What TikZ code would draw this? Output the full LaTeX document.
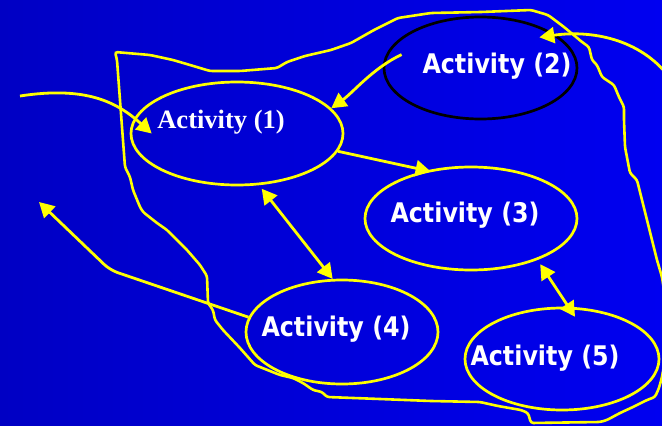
\documentclass[tikz,border=0pt]{standalone}
\usepackage{fontspec}
\usepackage{graphicx}
\usetikzlibrary{shapes.geometric,arrows.meta}
\newfontfamily\actserif{Liberation Serif}
\newfontfamily\actsans{DejaVu Sans}
\definecolor{bgL}{RGB}{0,0,196}
\definecolor{bgR}{RGB}{0,0,240}
\definecolor{ylw}{RGB}{255,255,0}
\newcommand\actlabel[1]{\scalebox{0.88}[1]{#1}}
\begin{document}
\begin{tikzpicture}[x=1pt,y=-1pt,
  act/.style={ellipse,draw=ylw,line width=2.7pt,inner sep=0pt},
  lbl/.style={text=white,anchor=base,inner sep=0pt},
  sanslbl/.style={lbl,font=\actsans\bfseries\fontsize{27}{30}\selectfont},
  seriflbl/.style={lbl,font=\actserif\bfseries\fontsize{26.5}{30}\selectfont},
  conn/.style={draw=ylw,line width=2.8pt},
  arrowone/.style={-{Triangle[length=15pt,width=16pt]}},
  arrowboth/.style={{Triangle[length=15pt,width=16pt]}-{Triangle[length=15pt,width=16pt]}},
  loopline/.style={draw=ylw,line width=2.6pt,rounded corners=2.5pt}
]
\useasboundingbox (0,0) rectangle (662,426);
\clip (0,0) rectangle (662,426);
\fill[left color=bgL,right color=bgR] (0,0) rectangle (662,426);

% activities
\node[act,minimum width=212pt,minimum height=103pt] (e1) at (237,133.5) {};
\node[act,draw=black,minimum width=193pt,minimum height=102pt] (e2) at (480.5,68) {};
\node[act,minimum width=212pt,minimum height=103pt] (e3) at (471,218.5) {};
\node[act,minimum width=192pt,minimum height=104pt] (e4) at (342,332) {};
\node[act,minimum width=194pt,minimum height=102pt] (e5) at (562,359) {};

\node[seriflbl] (t1) at (221,128) {Activity (1)};
\node[sanslbl] (t2) at (497,73) {\actlabel{Activity (2)}};
\node[sanslbl] (t3) at (465,222) {\actlabel{Activity (3)}};
\node[sanslbl] (t4) at (336,336) {\actlabel{Activity (4)}};
\node[sanslbl] (t5) at (545,365) {\actlabel{Activity (5)}};

% hand-drawn enclosing loop
\draw[loopline] (115,52) -- (150,55) -- (173,60) -- (190,65) -- (210,71) -- (240,71)
  -- (277,68) -- (287,62) -- (305,56) -- (331,50) -- (351,43) -- (374,30) -- (398,18)
  -- (431,13) -- (481,12) -- (531,10) -- (548,15) -- (564,27) -- (582,42) -- (589,47)
  -- (592,60) -- (597,65) -- (602,77) -- (614,85) -- (619,97) -- (624,107) -- (624,120)
  -- (625,147) -- (630,173) -- (637,180) -- (642,200) -- (647,220) -- (652,240)
  -- (657,260) -- (662,277) -- (670,330) -- (662,377) -- (659,388) -- (655,397)
  -- (647,400) -- (643,402) -- (633,407) -- (620,413) -- (607,420) -- (600,422)
  -- (531,423) -- (528,413) -- (521,410) -- (498,406) -- (480,402) -- (431,401)
  -- (380,399) -- (327,397) -- (322,392) -- (313,390) -- (303,383) -- (293,378)
  -- (280,375) -- (255,365) -- (240,348) -- (223,330) -- (215,320) -- (213,310)
  -- (208,303) -- (207,276) -- (200,265) -- (187,250) -- (167,230) -- (157,223)
  -- (143,212) -- (140,207) -- (133,190) -- (130,177) -- (125,167) -- (122,127)
  -- (117,60) -- cycle;

% free ends
\coordinate (in1) at (20,96);
\coordinate (in2) at (670,78);
\coordinate (k4) at (110,270);
\coordinate (out4) at (39,202);

% connectors
\draw[conn,arrowone] (in1) .. controls +(65,-10) and +(-35,-32) .. ([xshift=22pt]e1.west);
\draw[conn,arrowone] ([shift={(14,3)}]e2.170) .. controls +(-28,13) and +(22,-16) .. (e1.15);
\draw[conn,arrowone,shorten >=-4.5pt] (e1.-10) -- (e3.133);
\draw[conn,arrowboth,shorten <=4.5pt] (e1.-67) -- (e4.100);
\draw[conn,arrowboth,shorten <=5pt,shorten >=-12pt] (e3.-32) -- (e5.83);
\draw[conn,arrowone,rounded corners=8pt] (e4.171) -- (k4) -- (out4);
\draw[conn,arrowone] (in2) .. controls (640,38) and (590,30) .. ([shift={(-12,5.4)}]e2.27);
\end{tikzpicture}
\end{document}
